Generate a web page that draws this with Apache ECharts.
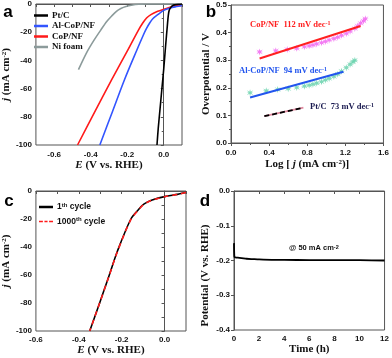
<!DOCTYPE html>
<html>
<head>
<meta charset="utf-8">
<script src="https://cdn.jsdelivr.net/npm/echarts@6/dist/echarts.min.js"></script>
<style>
  html, body { margin: 0; padding: 0; background: #fff; }
  #chart { width: 392px; height: 358px; }
</style>
</head>
<body>
<div id="chart"></div>
<script>
  // panel a : polarization curves (E vs RHE, j)
  const ptcE = [0.1, 0.08, 0.06, 0.05, 0.04, 0.03, 0.025, 0.02, 0.01, 0.0, -0.01, -0.02, -0.03, -0.037];
  const ptcJ = [0, -0.2, -0.6, -1, -2.2, -4.5, -8, -15, -30, -46, -60, -74, -88, -100];
  const alE = [0.1, 0.07, 0.036, 0.0, -0.033, -0.06, -0.077, -0.095, -0.111, -0.15, -0.215, -0.28, -0.35];
  const alJ = [-1, -1.8, -2.8, -4.5, -7.6, -10.5, -13.5, -17.5, -21.8, -33.5, -53.7, -76, -100];
  const copE = [0.1, 0.054, 0.0, -0.033, -0.07, -0.094, -0.115, -0.137, -0.2, -0.285, -0.38, -0.472];
  const copJ = [-1, -1.7, -3.8, -5.2, -7.5, -9.9, -13.5, -18.2, -33.5, -53.7, -77, -100];
  const niE = [0.1, -0.1, -0.12, -0.137, -0.17, -0.207, -0.235, -0.259, -0.285, -0.311, -0.345, -0.38, -0.42, -0.467];
  const niJ = [0, 0, -0.1, -0.2, -0.7, -1.7, -3.2, -5.2, -8.5, -12.3, -18.5, -25.3, -34, -46.6];

  // panel b : Tafel plots
  const copLogJ = [0.30, 0.47, 0.59, 0.69, 0.77, 0.82, 0.86, 0.90, 0.95, 0.99, 1.03, 1.08, 1.12, 1.16, 1.21, 1.25, 1.30, 1.33, 1.36, 1.39, 1.41];
  const copEta = [0.330, 0.334, 0.339, 0.343, 0.349, 0.352, 0.355, 0.359, 0.363, 0.368, 0.373, 0.378, 0.383, 0.390, 0.397, 0.405, 0.415, 0.424, 0.434, 0.442, 0.450];
  const copFitX = [0.30, 1.36];
  const copFitY = [0.306, 0.424];
  const alLogJ = [0.20, 0.37, 0.49, 0.60, 0.69, 0.77, 0.82, 0.86, 0.90, 0.95, 0.99, 1.03, 1.08, 1.12, 1.16, 1.21, 1.25, 1.28, 1.30];
  const alEta = [0.182, 0.189, 0.194, 0.197, 0.201, 0.206, 0.209, 0.213, 0.217, 0.222, 0.228, 0.234, 0.241, 0.249, 0.260, 0.273, 0.285, 0.294, 0.300];
  const alFitX = [0.20, 1.18];
  const alFitY = [0.165, 0.258];
  const ptFitX = [0.35, 0.76];
  const ptFitY = [0.097, 0.128];

  // panel c : LSV before / after cycling
  const cycE = [0.1, 0.06, 0.0, -0.058, -0.085, -0.102, -0.12, -0.157, -0.22, -0.26, -0.304, -0.349];
  const cyc1J = [-1.1, -2.4, -4, -6.4, -8.3, -10, -13, -20, -43, -61, -80.5, -100];
  const cyc1000J = [-1.1, -2.5, -4.1, -6.5, -8.4, -10.2, -13.2, -20.3, -43.3, -61.2, -80.6, -100];

  // panel d : chronopotentiometry
  const timeH = [0, 0.03, 0.1, 0.3, 0.6, 1, 1.5, 2, 3, 4, 6, 8, 10, 12];
  const potV = [-0.15, -0.19, -0.191, -0.192, -0.193, -0.195, -0.196, -0.197, -0.198, -0.198, -0.199, -0.199, -0.199, -0.2];

  const FRAME = '#555';
  const SERIF = '"Liberation Serif", "Times New Roman", serif';
  const SANS = '"Liberation Sans", Arial, sans-serif';
  const NAME_SIZE = 11;
  const TICK_SIZE = 8;

  function pairs(xs, ys) {
    return xs.map((x, i) => [x, ys[i]]);
  }

  function tickLabel(extra) {
    return Object.assign({ color: '#111', fontFamily: SANS, fontWeight: 'bold', fontSize: TICK_SIZE, margin: 4 }, extra);
  }

  function axis(gi, o) {
    return Object.assign({
      type: 'value',
      gridIndex: gi,
      axisLine: { show: true, lineStyle: { color: FRAME, width: 1 } },
      axisTick: { show: true, length: 3, lineStyle: { color: FRAME } },
      splitLine: { show: false },
      axisLabel: tickLabel(),
      nameLocation: 'middle',
      nameTextStyle: {
        fontFamily: SERIF, fontWeight: 'bold', fontSize: NAME_SIZE, color: '#111',
        rich: {
          i: { fontFamily: SERIF, fontWeight: 'bold', fontStyle: 'italic', fontSize: NAME_SIZE, color: '#111' },
          s: { fontFamily: SERIF, fontWeight: 'bold', fontSize: 7, verticalAlign: 'top', color: '#111' }
        }
      }
    }, o);
  }

  function fix1(v) {
    if (Math.abs(v) < 1e-9) return '0.0';
    return v.toFixed(1);
  }

  const starPath = 'path://M5,0 L6,3.5 L9.5,1.5 L7,4.5 L10,5 L7,5.5 L9.5,8.5 L6,6.5 L5,10 L4,6.5 L0.5,8.5 L3,5.5 L0,5 L3,4.5 L0.5,1.5 L4,3.5 Z';
  const dashIcon = 'path://M0,0h5v2h-5z M7,0h4v2h-4z M13,0h5v2h-5z';

  const chart = echarts.init(document.getElementById('chart'), null, { renderer: 'canvas' });

  const option = {
    animation: false,
    backgroundColor: '#fff',
    grid: [
      { left: 28, top: 4, width: 154, height: 141, show: true, borderColor: FRAME, borderWidth: 1 },
      { left: 231, top: 5, width: 154, height: 138, show: true, borderColor: FRAME, borderWidth: 1 },
      { left: 28, top: 191, width: 158, height: 140, show: true, borderColor: FRAME, borderWidth: 1 },
      { left: 234, top: 191, width: 152, height: 139, show: true, borderColor: FRAME, borderWidth: 1 }
    ],
    xAxis: [
      axis(0, {
        min: -0.7, max: 0.1, interval: 0.1,
        axisLabel: tickLabel({ margin: 6, formatter: v => (Math.round(v * 10) % 2 === 0 ? fix1(v) : '') }),
        name: '{i|E} (V vs. RHE)', nameGap: 15
      }),
      axis(1, {
        min: 0, max: 1.6, interval: 0.4,
        minorTick: { show: true, splitNumber: 2, length: 2, lineStyle: { color: FRAME } },
        axisLabel: tickLabel({ margin: 6, formatter: fix1 }),
        name: 'Log [ {i|j} (mA cm{s|-2})]', nameGap: 16
      }),
      axis(2, {
        min: -0.6, max: 0.1, interval: 0.2,
        minorTick: { show: true, splitNumber: 2, length: 3, lineStyle: { color: FRAME } },
        axisLabel: tickLabel({ margin: 5, formatter: fix1, showMaxLabel: false }),
        name: '{i|E} (V vs. RHE)', nameGap: 13
      }),
      axis(3, {
        min: 0, max: 12, interval: 2,
        axisLabel: tickLabel({ margin: 5 }),
        name: 'Time (h)', nameGap: 14
      })
    ],
    yAxis: [
      axis(0, {
        min: -100, max: 0, interval: 20,
        minorTick: { show: true, splitNumber: 2, length: 2, lineStyle: { color: FRAME } },
        name: '{i|j} (mA cm{s|-2})', nameGap: 15
      }),
      axis(1, {
        min: 0, max: 0.5, interval: 0.1,
        minorTick: { show: true, splitNumber: 2, length: 2, lineStyle: { color: FRAME } },
        axisLabel: tickLabel({ formatter: fix1 }),
        name: 'Overpotential / V', nameGap: 16
      }),
      axis(2, {
        min: -100, max: 0, interval: 20,
        minorTick: { show: true, splitNumber: 2, length: 3, lineStyle: { color: FRAME } },
        name: '{i|j} (mA cm{s|-2})', nameGap: 12
      }),
      axis(3, {
        min: -0.4, max: 0, interval: 0.1,
        axisLabel: tickLabel({ formatter: fix1 }),
        name: 'Potential (V vs. RHE)', nameGap: 23,
        nameTextStyle: { fontFamily: SERIF, fontWeight: 'bold', fontSize: NAME_SIZE, color: '#111', padding: [0, 30, 0, 0] }
      })
    ],
    legend: [
      {
        left: 29, top: 6, orient: 'vertical', itemWidth: 14, itemHeight: 2.5, itemGap: 1.5,
        textStyle: { fontFamily: SERIF, fontWeight: 'bold', fontSize: 9, lineHeight: 9, color: '#111', padding: [0, 0, 0, -1] },
        data: [
          { name: 'Pt/C', icon: 'rect' },
          { name: 'Al-CoP/NF', icon: 'rect' },
          { name: 'CoP/NF', icon: 'rect' },
          { name: 'Ni foam', icon: 'rect' }
        ]
      },
      {
        left: 34, top: 197, orient: 'vertical', itemWidth: 14, itemHeight: 2.5, itemGap: 4.5,
        textStyle: {
          fontFamily: SANS, fontWeight: 'bold', fontSize: 8.5, lineHeight: 10, color: '#111', padding: [0, 0, 0, -1],
          rich: { s: { fontFamily: SANS, fontWeight: 'bold', fontSize: 6, verticalAlign: 'top', color: '#111' } }
        },
        formatter: n => (n === 'c1' ? '1{s|th} cycle' : '1000{s|th} cycle'),
        data: [
          { name: 'c1', icon: 'rect' },
          { name: 'c1000', icon: dashIcon }
        ]
      }
    ],
    series: [
      // a
      { name: 'Ni foam', type: 'line', xAxisIndex: 0, yAxisIndex: 0, data: pairs(niE, niJ), symbol: 'none', smooth: 0.3,
        lineStyle: { color: '#8c9b9b', width: 1.6 }, itemStyle: { color: '#8c9b9b' } },
      { name: 'CoP/NF', type: 'line', xAxisIndex: 0, yAxisIndex: 0, data: pairs(copE, copJ), symbol: 'none', smooth: 0.3,
        lineStyle: { color: '#ff1a1a', width: 1.6 }, itemStyle: { color: '#ff1a1a' } },
      { name: 'Al-CoP/NF', type: 'line', xAxisIndex: 0, yAxisIndex: 0, data: pairs(alE, alJ), symbol: 'none', smooth: 0.3,
        lineStyle: { color: '#3355ff', width: 1.6 }, itemStyle: { color: '#3355ff' } },
      { name: 'Pt/C', type: 'line', xAxisIndex: 0, yAxisIndex: 0, data: pairs(ptcE, ptcJ), symbol: 'none', smooth: 0.3,
        lineStyle: { color: '#000', width: 1.6 }, itemStyle: { color: '#000' } },
      // b
      { type: 'scatter', xAxisIndex: 1, yAxisIndex: 1, data: pairs(copLogJ, copEta), symbol: starPath, symbolSize: 7,
        itemStyle: { color: '#f05cf0' } },
      { type: 'scatter', xAxisIndex: 1, yAxisIndex: 1, data: pairs(alLogJ, alEta), symbol: starPath, symbolSize: 7,
        itemStyle: { color: '#5fcfa8' } },
      { type: 'line', xAxisIndex: 1, yAxisIndex: 1, data: pairs(copFitX, copFitY), symbol: 'none',
        lineStyle: { color: '#ff2020', width: 2 } },
      { type: 'line', xAxisIndex: 1, yAxisIndex: 1, data: pairs(alFitX, alFitY), symbol: 'none',
        lineStyle: { color: '#2255ee', width: 2 } },
      { type: 'line', xAxisIndex: 1, yAxisIndex: 1, data: pairs(ptFitX, ptFitY), symbol: 'none',
        lineStyle: { color: '#e08aa0', width: 1.8 } },
      { type: 'line', xAxisIndex: 1, yAxisIndex: 1, data: pairs(ptFitX, ptFitY), symbol: 'none',
        lineStyle: { color: '#000', width: 1.8, type: [5, 3] } },
      // c
      { name: 'c1', type: 'line', xAxisIndex: 2, yAxisIndex: 2, data: pairs(cycE, cyc1J), symbol: 'none', smooth: 0.3,
        lineStyle: { color: '#000', width: 1.6 }, itemStyle: { color: '#000' } },
      { name: 'c1000', type: 'line', xAxisIndex: 2, yAxisIndex: 2, data: pairs(cycE, cyc1000J), symbol: 'none', smooth: 0.3,
        lineStyle: { color: '#ff1a1a', width: 1.6, type: [5, 4] }, itemStyle: { color: '#ff1a1a' } },
      // d
      { type: 'line', xAxisIndex: 3, yAxisIndex: 3, data: pairs(timeH, potV), symbol: 'none', smooth: 0.2,
        lineStyle: { color: '#000', width: 1.8 } }
    ],
    graphic: [
      { type: 'text', x: 8, y: 12, style: { text: 'a', font: 'bold 17px ' + SANS, fill: '#000', textAlign: 'center', textVerticalAlign: 'middle' } },
      { type: 'text', x: 211, y: 12, style: { text: 'b', font: 'bold 17px ' + SANS, fill: '#000', textAlign: 'center', textVerticalAlign: 'middle' } },
      { type: 'text', x: 9, y: 201, style: { text: 'c', font: 'bold 17px ' + SANS, fill: '#000', textAlign: 'center', textVerticalAlign: 'middle' } },
      { type: 'text', x: 205, y: 201, style: { text: 'd', font: 'bold 17px ' + SANS, fill: '#000', textAlign: 'center', textVerticalAlign: 'middle' } },
      { type: 'text', x: 250, y: 25, style: {
        text: '{n|CoP/NF  112 mV dec}{s|-1}', textVerticalAlign: 'middle',
        rich: { n: { font: 'bold 8.5px ' + SERIF, fill: '#ff2020' }, s: { font: 'bold 6px ' + SERIF, fill: '#ff2020', verticalAlign: 'top' } } } },
      { type: 'text', x: 239, y: 71, style: {
        text: '{n|Al-CoP/NF  94 mV dec}{s|-1}', textVerticalAlign: 'middle',
        rich: { n: { font: 'bold 8.5px ' + SERIF, fill: '#2255ee' }, s: { font: 'bold 6px ' + SERIF, fill: '#2255ee', verticalAlign: 'top' } } } },
      { type: 'text', x: 310, y: 107, style: {
        text: '{n|Pt/C  73 mV dec}{s|-1}', textVerticalAlign: 'middle',
        rich: { n: { font: 'bold 8.5px ' + SERIF, fill: '#1a1a50' }, s: { font: 'bold 6px ' + SERIF, fill: '#1a1a50', verticalAlign: 'top' } } } },
      { type: 'text', x: 289, y: 248, style: {
        text: '{n|@ 50 mA cm}{s|-2}', textVerticalAlign: 'middle',
        rich: { n: { font: 'bold 7.5px ' + SANS, fill: '#111' }, s: { font: 'bold 5.5px ' + SANS, fill: '#111', verticalAlign: 'top' } } } }
    ]
  };

  chart.setOption(option);
</script>
</body>
</html>
